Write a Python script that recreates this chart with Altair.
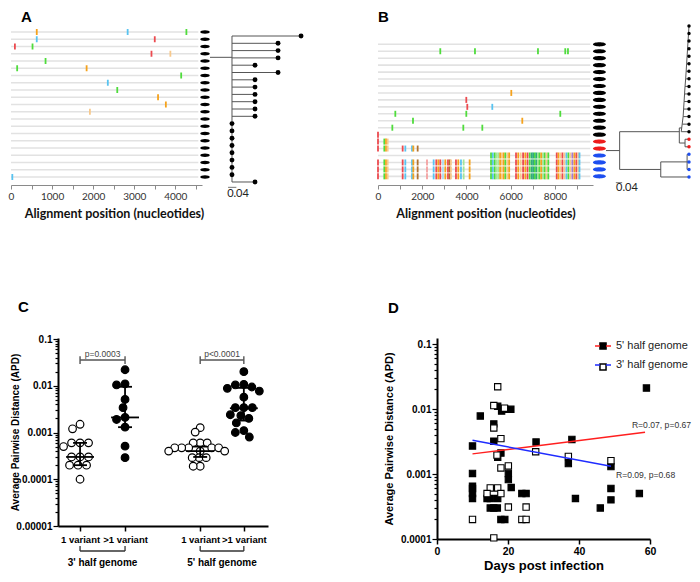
import math
import altair as alt
import pandas as pd

FONT = "Liberation Sans"
HFONT = "Lato"

# ---------------- colours for highlighter categories ----------------
NT_DOMAIN = ["green", "blue", "orange", "red", "lgreen", "lorange", "brown", "teal", "purple", "lblue", "pink"]
NT_RANGE = ["#4fdc3c", "#58c3f0", "#f5a21c", "#ec4a4f", "#a5e597", "#f7c98c", "#b07230", "#2faa7c", "#a57ad0", "#a8dbf3", "#f3a0a0"]
GRP_DOMAIN = ["black", "red", "blue"]
GRP_RANGE = ["#000000", "#ee1c1c", "#1d4ef0"]

# ---------------- Panel A data ----------------
A_ROWS = list(range(21))
A_ROW_END = 4560
A_MUT_ROW = [0, 0, 0, 1, 1, 2, 2, 3, 3, 4, 5, 5, 6, 7, 8, 9, 10, 11, 20]
A_MUT_POS = [627, 2840, 4270, 627, 3500, 95, 524, 3420, 3880, 841, 150, 1841, 4143, 2357, 2587, 3580, 3770, 1921, 32]
A_MUT_NT = ["orange", "blue", "green", "blue", "red", "red", "green", "red", "lorange", "green",
            "green", "orange", "green", "blue", "green", "orange", "orange", "lorange", "blue"]
A_OVAL_POS = 4723
A_OVAL_GRP = ["black"] * 21
A_X_TICKS = [0, 500, 1000, 1500, 2000, 2500, 3000, 3500, 4000, 4500]

A_TIP_X = [0.439, 0.328, 0.328, 0.328, 0.217, 0.328, 0.217, 0.217, 0.217, 0.217, 0.217, 0.217,
           0.106, 0.106, 0.106, 0.106, 0.106, 0.106, 0.106, 0.106, 0.217]
A_TIP_GRP = ["black"] * 21
A_NODE_X = 0.106
A_ROOT_Y = 2.92
A_BAR_X = [0.087, 0.127]
A_BAR_Y = 20.73
A_BAR_LABEL = [0.135, 21.6]

# ---------------- Panel B data ----------------
B_ROWS = list(range(20))
B_ROW_END = 9600
B_OVAL_POS = 10010
B_OVAL_GRP = ["black"] * 14 + ["red"] * 2 + ["blue"] * 4
B_X_TICKS = [0, 1000, 2000, 3000, 4000, 5000, 6000, 7000, 8000, 9000]

B_SINGLE_ROW = [1, 1, 1, 1, 1, 7, 8, 9, 9, 10, 10, 10, 11, 11, 12, 12, 12, 13,
                14, 14, 14, 14, 15, 15, 15, 15, 15, 15, 15, 15, 15]
B_SINGLE_POS = [2816, 4384, 7232, 8466, 8588, 6026, 3992, 4037, 5167, 783, 3992, 8241, 1582, 6523, 648, 3857, 4716, 0,
                0, 286, 362, 437, 0, 286, 362, 437, 1115, 1235, 1537, 1597, 1793]
B_SINGLE_NT = ["green", "green", "green", "green", "green", "orange", "red", "red", "blue", "green", "green", "green",
               "green", "orange", "green", "green", "green", "red",
               "red", "green", "orange", "lorange", "red", "green", "orange", "lorange", "red", "blue", "blue", "orange", "brown"]

B_LEFT_ROWS = [17, 18, 19]
B_LEFT_POS = [0, 286, 362, 437, 1115, 1235, 1537, 1597, 1793, 2215, 2516, 2636, 2727, 2817, 2938, 3043, 3164,
              3240, 3299, 3525, 3630, 3751, 3872, 4143]
B_LEFT_NT = ["red", "green", "orange", "lorange", "red", "blue", "blue", "orange", "brown", "pink", "blue", "red",
             "orange", "red", "lblue", "orange", "red", "brown", "lorange", "red", "orange", "blue", "lgreen", "orange"]

B_RIGHT_ROWS = [16, 17, 18, 19]
B_RIGHT_POS = [5110, 5190, 5280, 5360, 5440, 5520, 5600, 5680, 5760, 5850, 5930,
               6240, 6340, 6450, 6560, 6660, 6760, 6860, 6950, 7020, 7090, 7160, 7230, 7300, 7380, 7460, 7540, 7620, 7700,
               8080, 8160, 8250, 8340, 8430, 8520, 8610, 8700, 8790, 8880, 8970, 9060, 9110]
B_RIGHT_NT = ["green", "blue", "green", "lgreen", "lgreen", "orange", "lorange", "orange", "green", "lorange", "orange",
              "red", "orange", "lorange", "red", "orange", "red", "green", "teal", "teal", "green", "teal", "lgreen",
              "green", "orange", "lgreen", "green", "lorange", "green",
              "red", "orange", "lorange", "red", "lorange", "blue", "green", "lorange", "purple", "orange", "red",
              "lorange", "blue"]

B_TIP_GRP = ["black"] * 15 + ["red"] * 2 + ["blue"] * 4
B_TIP_X = 0.523
B_TIP_FROM = [0.523, 0.520, 0.517, 0.514, 0.511, 0.508, 0.505, 0.502, 0.498, 0.495, 0.492, 0.489, 0.486, 0.480, 0.474,
              0.498, 0.498, 0.511, 0.511, 0.511, 0.345]
B_LADDER_N = 15
B_INNER = [
    (0.0, 16.5, 0.086, 16.5),
    (0.086, 14.0, 0.086, 19.0),
    (0.086, 14.0, 0.462, 14.0),
    (0.462, 13.5, 0.462, 15.5),
    (0.462, 13.5, 0.477, 13.5),
    (0.462, 15.5, 0.498, 15.5),
    (0.498, 15.0, 0.498, 16.0),
    (0.086, 19.0, 0.345, 19.0),
    (0.345, 18.0, 0.345, 20.0),
    (0.345, 18.0, 0.511, 18.0),
    (0.511, 17.0, 0.511, 19.0),
]
B_BAR_X = [0.062, 0.102]
B_BAR_Y = 20.75
B_BAR_LABEL = [0.132, 21.5]

# ---------------- Panel C data ----------------
C_CENTERS = [0.49, 1.49, 3.16, 4.13]
C_KIND = ["open", "filled", "open", "filled"]
C_VALUES = [
    [0.0015, 0.0012, 0.0006, 0.0006, 0.0006, 0.0005, 0.0003, 0.0003, 0.0003, 0.0002, 0.0002, 0.0002, 0.0001],
    [0.022, 0.011, 0.0104, 0.0051, 0.0034, 0.0021, 0.0019, 0.0013, 0.00051, 0.00029],
    [0.00127, 0.00102, 0.0006, 0.0006, 0.0006, 0.00047, 0.00047, 0.00047, 0.00047, 0.00047, 0.0004, 0.0004,
     0.0004, 0.00029, 0.00029, 0.00029, 0.00019, 0.00019],
    [0.02, 0.0107, 0.0104, 0.0094, 0.0088, 0.0077, 0.0057, 0.0034, 0.0034, 0.0034, 0.0024, 0.0023, 0.0020,
     0.0016, 0.0011, 0.0010, 0.0008],
]
C_SWARM_D = [8.4, 8.4, 6.6, 8.4]
C_MED = [0.0003, 0.0021, 0.0004, 0.0033]
C_Q1 = [0.0002, 0.0013, 0.0003, 0.0018]
C_Q3 = [0.0006, 0.0095, 0.0005, 0.009]
C_P_TEXT = ["p=0.0003", "p<0.0001"]
C_P_PAIRS = [(0, 1), (2, 3)]
C_P_Y = 0.0356
C_P_END = [0.0292, 0.043]
C_P_TEXT_Y = 0.047
C_GROUP_TEXT = ["3' half genome", "5' half genome"]
C_GROUP_Y = 2.92e-6
C_GROUP_END = 3.73e-6
C_GROUP_TEXT_Y = 1.62e-6

# ---------------- Panel D data ----------------
G5 = "5' half genome"
G3 = "3' half genome"
D5_DAY = [10, 10, 10, 10, 10, 10, 12.2, 17.1, 18.2, 19.1, 20.8, 16, 16, 18, 17.1, 27.9, 38, 37, 20.1, 20.1, 20.9,
          14.1, 15, 17.1, 23.9, 25.1, 15, 16, 17, 18, 19.1, 39, 59, 49, 49, 49, 46, 57]
D5_APD = [0.0027, 0.00102, 0.00065, 0.0006, 0.0005, 0.00042, 0.0078, 0.011, 0.0093, 0.0099, 0.0099, 0.0059, 0.0032,
          0.0021, 0.0018, 0.0031, 0.0034, 0.00145, 0.00102, 0.00082, 0.00062, 0.00042, 0.00042, 0.00042, 0.0005,
          0.0005, 0.0003, 0.0003, 0.0003, 0.0002, 0.0002, 0.00042, 0.021, 0.0013, 0.0006, 0.0004, 0.0003, 0.0005]
D3_DAY = [17.1, 16, 19, 16, 18, 16.9, 18, 20.1, 15, 17.1, 14.1, 18, 20.1, 25.1, 10, 23.9, 25.1, 16, 27.8, 37, 49]
D3_APD = [0.022, 0.0113, 0.0103, 0.0051, 0.0035, 0.00195, 0.00124, 0.00133, 0.00061, 0.00061, 0.0005, 0.0005,
          0.00031, 0.00031, 0.0002, 0.0002, 0.0002, 0.000104, 0.0022, 0.00186, 0.0016]
D_FIT_GENOME = [G5, G5, G3, G3]
D_FIT_DAY = [10, 58.6, 10, 49]
D_FIT_APD = [0.00204, 0.0044, 0.0033, 0.00132]
D_NOTE_TEXT = ["R=0.07, p=0.67", "R=0.09, p=0.68"]
D_NOTE_DAY = [54.9, 50.4]
D_NOTE_APD = [0.00565, 0.00096]
D_X_TICKS = [0, 20, 40, 60]

# ---------------- helpers ----------------
ELLIPSE_A = "M-1,0A1,0.36,0,1,1,1,0A1,0.36,0,1,1,-1,0Z"
ELLIPSE_B = "M-1,0A1,0.32,0,1,1,1,0A1,0.32,0,1,1,-1,0Z"
DECADE = "abs(log(datum.value)/LN10 - round(log(datum.value)/LN10)) < 0.001"


def log_ticks(lo, hi):
    return [m * 10 ** e for e in range(lo, hi) for m in range(1, 10)] + [10 ** hi]


def highlighter(rows, row_end, mut_rows, mut_pos, mut_nt, oval_pos, oval_grp, xdom, ydom, width, height,
                ticks, every, oval_shape, oval_size, title, title_dx, axis_extra):
    xs = alt.Scale(domain=xdom, nice=False, zero=False)
    ys = alt.Scale(domain=ydom, reverse=True, nice=False, zero=False)
    axis = alt.Axis(values=ticks, format="d", labelExpr=f"datum.value % {every} === 0 ? datum.label : ''",
                    title="Alignment position (nucleotides)", titleFont=HFONT, titleFontSize=12.5,
                    titleFontWeight="bold", titleColor="#111", titlePadding=6, labelFont=HFONT,
                    labelFontSize=10, labelColor="#333", labelPadding=2, tickSize=4, tickColor="#8a8a8a",
                    domainColor="#8a8a8a", domainWidth=1.2, grid=False, labelFlush=False, labelOverlap=False,
                    **axis_extra)
    X = alt.X("x:Q", scale=xs, axis=axis)
    Y = alt.Y("y:Q", scale=ys, axis=None)
    rows_df = pd.DataFrame({"x": [0] * len(rows), "x2": [row_end] * len(rows), "y": rows})
    mut_df = pd.DataFrame({"x": mut_pos, "y": mut_rows, "nt": mut_nt})
    oval_df = pd.DataFrame({"x": [oval_pos] * len(oval_grp), "y": rows, "grp": oval_grp})
    lines = alt.Chart(rows_df).mark_rule(color="#e2e2e2", strokeWidth=1.6).encode(x=X, x2="x2:Q", y=Y)
    ticks_l = alt.Chart(mut_df).mark_tick(orient="vertical", size=6, thickness=1.8, opacity=1).encode(
        x=X, y=Y, color=alt.Color("nt:N", scale=alt.Scale(domain=NT_DOMAIN, range=NT_RANGE), legend=None))
    ovals = alt.Chart(oval_df).mark_point(shape=oval_shape, size=oval_size, filled=True, opacity=1,
                                          strokeWidth=0).encode(
        x=X, y=Y, fill=alt.Fill("grp:N", scale=alt.Scale(domain=GRP_DOMAIN, range=GRP_RANGE), legend=None))
    return alt.layer(lines, ticks_l, ovals).properties(
        width=width, height=height,
        title=alt.TitleParams(title, anchor="start", frame="group", dx=title_dx, offset=3, fontSize=15,
                              font=FONT, fontWeight="bold", color="black"))


def tree(segs, tip_x, tip_grp, dot_size, bar_x, bar_y, bar_label, xdom, ydom, width, height):
    xs = alt.Scale(domain=xdom, nice=False, zero=False)
    ys = alt.Scale(domain=ydom, reverse=True, nice=False, zero=False)
    X = alt.X("x:Q", scale=xs, axis=None)
    Y = alt.Y("y:Q", scale=ys, axis=None)
    seg_df = pd.DataFrame(segs, columns=["x", "y", "x2", "y2"])
    tip_df = pd.DataFrame({"x": tip_x, "y": list(range(len(tip_x))), "grp": tip_grp})
    bar_df = pd.DataFrame({"x": [bar_x[0]], "x2": [bar_x[1]], "y": [bar_y], "y2": [bar_y]})
    lab_df = pd.DataFrame({"x": [bar_label[0]], "y": [bar_label[1]], "t": ["0.04"]})
    l1 = alt.Chart(seg_df).mark_rule(color="#555555", strokeWidth=1).encode(x=X, y=Y, x2="x2:Q", y2="y2:Q")
    l2 = alt.Chart(tip_df).mark_point(shape="circle", size=dot_size, filled=True, opacity=1, strokeWidth=0).encode(
        x=X, y=Y, fill=alt.Fill("grp:N", scale=alt.Scale(domain=GRP_DOMAIN, range=GRP_RANGE), legend=None))
    l3 = alt.Chart(bar_df).mark_rule(color="#777777", strokeWidth=1).encode(x=X, y=Y, x2="x2:Q", y2="y2:Q")
    l4 = alt.Chart(lab_df).mark_text(font=HFONT, fontSize=11, color="#222", baseline="middle").encode(
        x=X, y=Y, text="t:N")
    return alt.layer(l1, l3, l2, l4).properties(width=width, height=height)


def swarm(vals, center, d=8.4, ppu=45.0, ppd=46.75):
    placed, xs = [], []
    for v in vals:
        yp = math.log10(v) * ppd
        off = 0.0
        for k in range(0, 200):
            cand = ((k + 1) // 2) * 0.5 * (-1 if k % 2 else 1)
            if all((cand - px) ** 2 + (yp - py) ** 2 >= d * d for px, py in placed):
                off = cand
                break
        placed.append((off, yp))
        xs.append(center + off / ppu)
    return xs


def spacer(w):
    return alt.Chart(pd.DataFrame({"s": [0]})).mark_point(opacity=0).encode(
        x=alt.X("s:Q", axis=None), y=alt.Y("s:Q", axis=None)).properties(width=w, height=10)


# ---------------- Panel A ----------------
A_hl = highlighter(A_ROWS, A_ROW_END, A_MUT_ROW, A_MUT_POS, A_MUT_NT, A_OVAL_POS, A_OVAL_GRP,
                   [0, 4650], [-0.552, 21.103], 191, 157, A_X_TICKS, 1000, ELLIPSE_A, 90, "A", 10,
                   {"titleX": 103})

segA = [(A_NODE_X, i, tx, i) for i, tx in enumerate(A_TIP_X) if tx > A_NODE_X]
segA += [(A_NODE_X, 0, A_NODE_X, len(A_TIP_X) - 1), (0.0, A_ROOT_Y, A_NODE_X, A_ROOT_Y)]
A_tree = tree(segA, A_TIP_X, A_TIP_GRP, 24, A_BAR_X, A_BAR_Y, A_BAR_LABEL,
              [-0.0386, 0.810], [-1.096, 20.411], 176, 157)

# ---------------- Panel B ----------------
b_rows, b_pos, b_nt = list(B_SINGLE_ROW), list(B_SINGLE_POS), list(B_SINGLE_NT)
for r in B_LEFT_ROWS:
    b_rows += [r] * len(B_LEFT_POS)
    b_pos += B_LEFT_POS
    b_nt += B_LEFT_NT
for r in B_RIGHT_ROWS:
    b_rows += [r] * len(B_RIGHT_POS)
    b_pos += B_RIGHT_POS
    b_nt += B_RIGHT_NT
B_hl = highlighter(B_ROWS, B_ROW_END, b_rows, b_pos, b_nt, B_OVAL_POS, B_OVAL_GRP,
                   [0, 9720], [-2.345, 20.245], 215, 157, B_X_TICKS, 2000, ELLIPSE_B, 169, "B", 0, {})

segB = list(B_INNER)
segB += [(B_TIP_FROM[i], i, B_TIP_X, i) for i in range(len(B_TIP_FROM))]
segB += [(B_TIP_FROM[k], k, B_TIP_FROM[k - 1], k - 1) for k in range(1, B_LADDER_N)]
B_tree = tree(segB, [B_TIP_X] * len(B_TIP_GRP), B_TIP_GRP, 12, B_BAR_X, B_BAR_Y, B_BAR_LABEL,
              [-0.0819, 0.523], [0.265, 21.06], 96, 157)

# ---------------- Panel C ----------------
c_x, c_y, c_k = [], [], []
for g, vals in enumerate(C_VALUES):
    c_x += swarm(vals, C_CENTERS[g], d=C_SWARM_D[g])
    c_y += vals
    c_k += [C_KIND[g]] * len(vals)
c_pts = pd.DataFrame({"x": c_x, "y": c_y, "kind": c_k})

MED_HALF, CAP_HALF = 0.31, 0.155
stat_rows = []
for g, c in enumerate(C_CENTERS):
    stat_rows.append((c - MED_HALF, C_MED[g], c + MED_HALF, C_MED[g]))
    stat_rows.append((c - CAP_HALF, C_Q1[g], c + CAP_HALF, C_Q1[g]))
    stat_rows.append((c - CAP_HALF, C_Q3[g], c + CAP_HALF, C_Q3[g]))
    stat_rows.append((c, C_Q1[g], c, C_Q3[g]))
c_stats = pd.DataFrame(stat_rows, columns=["x", "y", "x2", "y2"])

pb_rows, pt_rows, gb_rows, gt_rows = [], [], [], []
for j, (a, b) in enumerate(C_P_PAIRS):
    xa, xb = C_CENTERS[a], C_CENTERS[b]
    pb_rows += [(xa, C_P_Y, xb, C_P_Y), (xa, C_P_END[0], xa, C_P_END[1]), (xb, C_P_END[0], xb, C_P_END[1])]
    pt_rows.append(((xa + xb) / 2, C_P_TEXT_Y, C_P_TEXT[j]))
    gb_rows += [(xa, C_GROUP_Y, xb, C_GROUP_Y), (xa, C_GROUP_Y, xa, C_GROUP_END), (xb, C_GROUP_Y, xb, C_GROUP_END)]
    gt_rows.append(((xa + xb) / 2, C_GROUP_TEXT_Y, C_GROUP_TEXT[j]))
c_pb = pd.DataFrame(pb_rows, columns=["x", "y", "x2", "y2"])
c_pt = pd.DataFrame(pt_rows, columns=["x", "y", "t"])
c_gb = pd.DataFrame(gb_rows, columns=["x", "y", "x2", "y2"])
c_gt = pd.DataFrame(gt_rows, columns=["x", "y", "t"])

cx_scale = alt.Scale(domain=[0, 4.667], nice=False, zero=False)
cy_scale = alt.Scale(type="log", domain=[1e-5, 0.10505], nice=False)
cx_axis = alt.Axis(values=C_CENTERS, title=None,
                   labelExpr="datum.value < 1 || (datum.value > 3 && datum.value < 3.5) ? '1 variant' : '>1 variant'",
                   tickSize=5, tickWidth=1.5, tickColor="black", domainColor="black", domainWidth=2,
                   labelFont=FONT, labelFontWeight="bold", labelFontSize=9.5, labelColor="black", labelPadding=3,
                   grid=False, labelAngle=0, labelFlush=False, labelOverlap=False)
cy_axis = alt.Axis(values=log_ticks(-5, -1), labelExpr=f"{DECADE} ? format(datum.value, '~f') : ''",
                   tickSize={"condition": {"test": DECADE, "value": 5}, "value": 3},
                   tickWidth=1.2, tickColor="black", domainColor="black", domainWidth=2,
                   labelFont=FONT, labelFontWeight="bold", labelFontSize=10, labelColor="black", labelPadding=1,
                   labelOverlap=False, grid=False,
                   title="Average Pairwise Distance (APD)", titleFont=FONT, titleFontWeight="bold",
                   titleFontSize=10, titleColor="black", titleX=-38, titleBaseline="bottom")
CX = alt.X("x:Q", scale=cx_scale, axis=cx_axis)
CY = alt.Y("y:Q", scale=cy_scale, axis=cy_axis)

c_points = alt.Chart(c_pts).mark_point(shape="circle", size=58, filled=True, stroke="black", strokeWidth=1.2,
                                       opacity=1).encode(
    x=CX, y=CY, fill=alt.Fill("kind:N", scale=alt.Scale(domain=["open", "filled"], range=["white", "black"]),
                              legend=None))
c_stat = alt.Chart(c_stats).mark_rule(color="black", strokeWidth=1.8).encode(x=CX, y=CY, x2="x2:Q", y2="y2:Q")
c_pbl = alt.Chart(c_pb).mark_rule(color="#555", strokeWidth=1.4).encode(x=CX, y=CY, x2="x2:Q", y2="y2:Q")
c_ptl = alt.Chart(c_pt).mark_text(font=FONT, fontSize=8.5, color="#444", baseline="middle").encode(
    x=CX, y=CY, text="t:N")
c_gbl = alt.Chart(c_gb).mark_rule(color="#333", strokeWidth=1.3).encode(x=CX, y=CY, x2="x2:Q", y2="y2:Q")
c_gtl = alt.Chart(c_gt).mark_text(font=FONT, fontSize=10, fontWeight="bold", color="black",
                                  baseline="middle").encode(x=CX, y=CY, text="t:N")
C = alt.layer(c_pbl, c_gbl, c_points, c_stat, c_ptl, c_gtl).properties(
    width=210, height=188,
    title=alt.TitleParams("C", anchor="start", frame="group", dx=-40, offset=19, fontSize=15, font=FONT,
                          fontWeight="bold", color="black"))

# ---------------- Panel D ----------------
d_pts = pd.DataFrame({"x": D5_DAY + D3_DAY, "y": D5_APD + D3_APD,
                      "genome": [G5] * len(D5_DAY) + [G3] * len(D3_DAY)})
d_fit = pd.DataFrame({"x": D_FIT_DAY, "y": D_FIT_APD, "genome": D_FIT_GENOME})
d_note = pd.DataFrame({"x": D_NOTE_DAY, "y": D_NOTE_APD, "t": D_NOTE_TEXT})

dx_scale = alt.Scale(domain=[0, 60], nice=False, zero=False)
dy_scale = alt.Scale(type="log", domain=[1e-4, 0.1237], nice=False)
dx_axis = alt.Axis(values=D_X_TICKS, title="Days post infection", titleFont=FONT, titleFontSize=13,
                   titleFontWeight="bold", titleColor="black", titlePadding=3, tickSize=5, tickWidth=1.5,
                   tickColor="black", domainColor="black", domainWidth=2, labelFont=FONT, labelFontWeight="bold",
                   labelFontSize=10.5, labelColor="black", labelPadding=2, grid=False, labelFlush=False,
                   labelOverlap=False)
dy_axis = alt.Axis(values=log_ticks(-4, -1), labelExpr=f"{DECADE} ? format(datum.value, '~f') : ''",
                   tickSize={"condition": {"test": DECADE, "value": 5}, "value": 3},
                   tickWidth=1.2, tickColor="black", domainColor="black", domainWidth=2,
                   labelFont=FONT, labelFontWeight="bold", labelFontSize=10, labelColor="black", labelPadding=1,
                   labelOverlap=False, grid=False,
                   title="Average Pairwise Distance (APD)", titleFont=FONT, titleFontWeight="bold",
                   titleFontSize=11, titleColor="black", titleX=-42.5, titleBaseline="bottom")
DX = alt.X("x:Q", scale=dx_scale, axis=dx_axis)
DY = alt.Y("y:Q", scale=dy_scale, axis=dy_axis)

LEG_COMMON = dict(title=None, orient="none", legendX=157, legendY=-1, symbolSize=256, rowPadding=5,
                  labelFont=FONT, labelFontSize=11, labelColor="#222", labelOffset=4, symbolStrokeWidth=1.5)
d_points = alt.Chart(d_pts).mark_square(size=40, stroke="black", strokeWidth=1.1, opacity=1).encode(
    x=DX, y=DY,
    fill=alt.Fill("genome:N", scale=alt.Scale(domain=[G3, G5], range=["white", "black"]),
                  legend=alt.Legend(values=[G5, G3], symbolType="M-0.38,-0.38H0.38V0.38H-0.38Z",
                                    labelExpr="''", **LEG_COMMON)))
d_lines = alt.Chart(d_fit).mark_line(strokeWidth=1.5).encode(
    x=DX, y=DY,
    stroke=alt.Stroke("genome:N", scale=alt.Scale(domain=[G5, G3], range=["#ff1f1f", "#1f2cff"]),
                      legend=alt.Legend(symbolType="M-1,0H-0.38M0.38,0H1", **LEG_COMMON)))
d_notes = alt.Chart(d_note).mark_text(font=FONT, fontSize=8.6, color="#333", align="left",
                                      baseline="middle").encode(x=DX, y=DY, text="t:N")
D = alt.layer(d_points, d_lines, d_notes).properties(
    width=213, height=201,
    title=alt.TitleParams("D", anchor="start", frame="group", dx=-49, offset=21, fontSize=15, font=FONT,
                          fontWeight="bold", color="black"))

# ---------------- layout ----------------
IND = dict(color="independent", fill="independent", stroke="independent")
top = alt.hconcat(A_hl, A_tree, B_hl, B_tree, spacing=0, bounds="flush").resolve_scale(**IND).resolve_legend(**IND)
bottom = alt.hconcat(spacer(47), C, spacer(169), D, spacing=0, bounds="flush").resolve_scale(**IND).resolve_legend(**IND)
chart = alt.vconcat(top, bottom, spacing=310, bounds="flush").resolve_scale(**IND).resolve_legend(**IND).properties(
    padding={"left": 0, "top": 2, "right": 0, "bottom": 0}).configure_view(stroke=None, strokeWidth=0)

chart.save("out.html", embed_options={"renderer": "svg", "actions": False})
